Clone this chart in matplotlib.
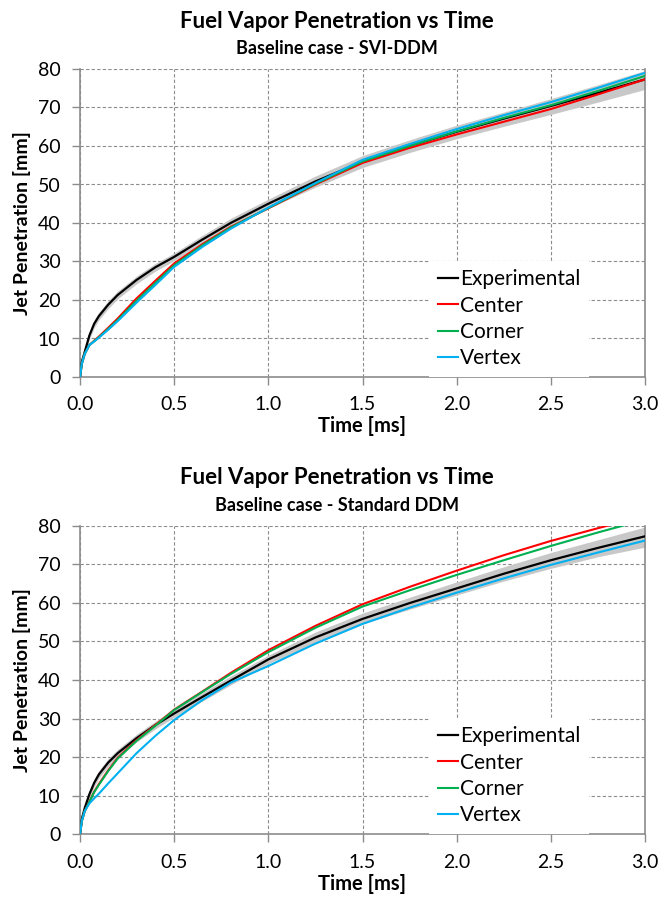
import matplotlib
matplotlib.use('Agg')
import matplotlib.pyplot as plt

plt.rcParams['font.family'] = ['Lato', 'DejaVu Sans']

# Temps [ms]
temps = [0, 0.01, 0.025, 0.05, 0.075, 0.1, 0.15, 0.2, 0.3, 0.4, 0.5, 0.65, 0.8,
         1.0, 1.25, 1.5, 1.75, 2.0, 2.25, 2.5, 2.75, 3.0]

# Cas SVI-DDM (graphe du haut)
svi_exp = [0, 4, 6.5, 10.8, 13.8, 15.8, 18.8, 21.3, 25.2, 28.5, 31.2, 35.7, 40,
           45, 50.8, 55.9, 60, 63.7, 67.1, 70.4, 73.8, 77.3]
svi_lo = [0, 3.2, 5.5, 9.8, 12.8, 14.8, 17.8, 20.3, 24.2, 27.5, 30.2, 34.6, 38.9,
          43.8, 49.3, 54.4, 58.3, 61.9, 65.1, 68.2, 71.4, 74.7]
svi_hi = [0, 4.8, 7.5, 11.8, 14.8, 16.8, 19.8, 22.3, 26.2, 29.5, 32.2, 36.8, 41.2,
          46.2, 52.2, 57.5, 61.6, 65.4, 68.8, 72.3, 75.9, 79.6]
svi_center = [0, 3.5, 6, 8.3, 9.4, 10.5, 12.8, 15.2, 20.4, 25, 29.5, 34.5, 39,
              43.8, 50, 55.6, 59.5, 63, 66.3, 69.6, 73.4, 77.3]
svi_corner = [0, 3.5, 6, 8.3, 9.3, 10.3, 12.5, 14.8, 19.8, 24.4, 29, 34.2, 38.8,
              43.9, 50.2, 56, 60, 63.8, 67.3, 70.6, 74.3, 78.2]
svi_vertex = [0, 3.5, 6, 8.3, 9.2, 10.2, 12.3, 14.5, 19.3, 23.9, 28.6, 33.8, 38.5,
              44, 50.4, 56.4, 60.5, 64.4, 68, 71.4, 75.1, 79.0]

# Cas DDM standard (graphe du bas)
std_exp = [0, 4, 6.8, 10.4, 13.3, 15.5, 18.6, 21, 24.9, 28.3, 31.3, 35.6, 39.8,
           45.3, 51, 55.8, 59.9, 63.7, 67.5, 71.0, 74.2, 77.2]
std_lo = [0, 3.2, 5.8, 9.4, 12.3, 14.5, 17.6, 20, 23.9, 27.3, 30.3, 34.5, 38.7,
          44.2, 49.6, 54.5, 58.3, 62, 65.6, 68.9, 71.9, 74.4]
std_hi = [0, 4.8, 7.8, 11.4, 14.3, 16.5, 19.6, 22, 25.9, 29.3, 32.3, 36.7, 41,
          46.4, 52.4, 57.3, 61.4, 65.4, 69.3, 73.0, 76.3, 79.6]
std_center = [0, 3.5, 6, 8.4, 11, 13, 16.6, 19.8, 24.4, 28.3, 32.3, 37, 41.8,
              47.7, 54, 59.6, 64.1, 68.3, 72.3, 76, 79.3, 82.5]
std_corner = [0, 3.5, 6, 8.4, 10.9, 12.8, 16.4, 19.6, 24.2, 28.1, 32.2, 36.9, 41.5,
              47.2, 53.5, 59, 63.2, 67.2, 71, 74.7, 78.2, 81.5]
std_vertex = [0, 3.5, 6, 8.0, 9.3, 10.5, 13.2, 15.8, 21, 25.5, 29.6, 34.8, 39.3,
              43.6, 49.4, 54.5, 58.7, 62.6, 66.3, 69.8, 73.0, 76.1]

titre = 'Fuel Vapor Penetration vs Time'
sous_titres = ['Baseline case - SVI-DDM', 'Baseline case - Standard DDM']
x_ticks = [0.0, 0.5, 1.0, 1.5, 2.0, 2.5, 3.0]
y_ticks = [0, 10, 20, 30, 40, 50, 60, 70, 80]

W, H = 659, 897
fig = plt.figure(figsize=(W / 100, H / 100), dpi=100)
gris = '#8c8c8c'


def tracer(top_px, bottom_px, titre_px, sous_px, sous_titre,
           exp, lo, hi, center, corner, vertex):
    ax = fig.add_axes([80 / W, 1 - bottom_px / H, 565 / W, (bottom_px - top_px) / H])
    ax.fill_between(temps, lo, hi, color='#c8c8c8', linewidth=0, zorder=2)
    ax.plot(temps, exp, color='black', lw=1.6, label='Experimental', zorder=3)
    ax.plot(temps, center, color='#ff0000', lw=1.5, label='Center', zorder=4)
    ax.plot(temps, corner, color='#00b050', lw=1.5, label='Corner', zorder=5)
    ax.plot(temps, vertex, color='#00b0f0', lw=1.5, label='Vertex', zorder=6)
    ax.set_xlim(0, 3)
    ax.set_ylim(0, 80)
    ax.set_xticks(x_ticks)
    ax.set_xticklabels([f'{v:.1f}' for v in x_ticks])
    ax.set_yticks(y_ticks)
    ax.grid(True, linestyle=(0, (3, 2)), color=gris, linewidth=0.8, zorder=0)
    ax.set_axisbelow(True)
    for s in ['left', 'bottom', 'right']:
        ax.spines[s].set_color(gris)
        ax.spines[s].set_linewidth(1.2)
    ax.spines['top'].set_visible(False)
    ax.tick_params(direction='out', length=6, color=gris, width=1,
                   labelsize=14, pad=8)
    ax.set_xlabel('Time [ms]', fontsize=14.5, fontweight='bold', labelpad=2)
    ax.set_ylabel('Jet Penetration [mm]', fontsize=14, fontweight='bold', labelpad=5)
    ax.legend(loc='upper left', bbox_to_anchor=(0.6, 0.41), fontsize=15,
              frameon=True, framealpha=1, facecolor='white', edgecolor='none',
              fancybox=False, handlelength=0.95, handletextpad=0.12,
              labelspacing=0.3, borderpad=0.4)
    fig.text(0.511, 1 - titre_px / H, titre, ha='center', va='center',
             fontsize=16, fontweight='bold')
    fig.text(0.511, 1 - sous_px / H, sous_titre, ha='center', va='center',
             fontsize=13, fontweight='bold')
    return ax


tracer(69, 377, 21, 49, sous_titres[0],
       svi_exp, svi_lo, svi_hi, svi_center, svi_corner, svi_vertex)
tracer(525.5, 834.3, 477, 505, sous_titres[1],
       std_exp, std_lo, std_hi, std_center, std_corner, std_vertex)

fig.savefig('out.png', dpi=100)
